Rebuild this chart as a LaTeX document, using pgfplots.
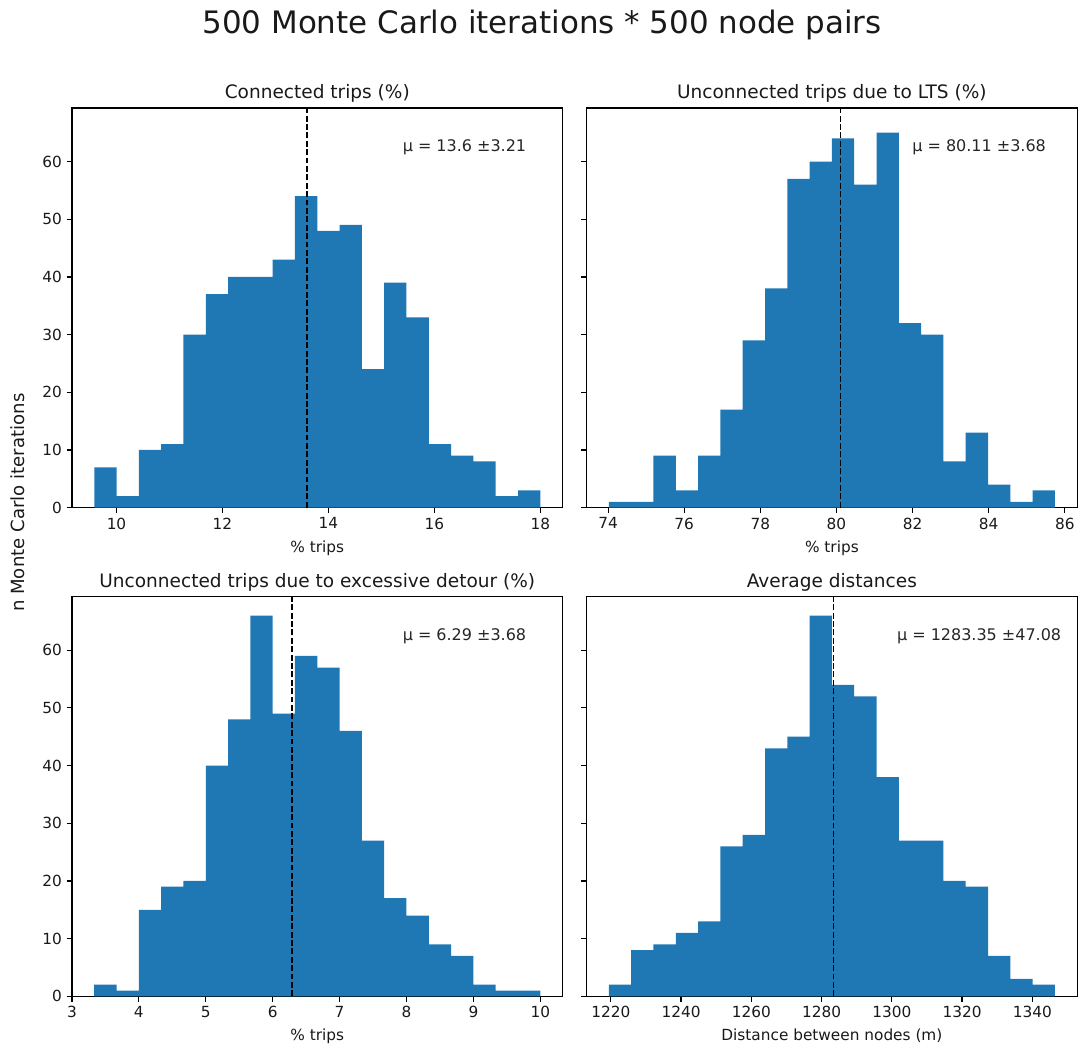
\documentclass[border=0pt]{standalone}
\usepackage{fontspec}
\setmainfont{DejaVu Sans}
\usepackage{pgfplots}
\pgfplotsset{compat=1.18}
\definecolor{mplblue}{HTML}{1F77B4}
\pgfplotsset{
  histax/.style={
    scale only axis, width=368.25pt, height=300pt, anchor=south west,
    ymin=0, ymax=69.3, ytick={0,10,...,60},
    tick align=outside, tick pos=left, major tick length=4pt,
    every tick/.style={black, line width=0.9pt},
    axis line style={line width=0.9pt, black},
    /pgf/number format/assume math mode=true,
    /pgf/number format/1000 sep={},
    ticklabel style={font=\fontsize{11.5}{13}\selectfont, text=black!90},
    label style={font=\fontsize{11.5}{13}\selectfont, text=black!90},
    xlabel style={yshift=-1.5pt},
    title style={at={(0.5,1)}, anchor=base, yshift=1pt, font=\fontsize{13.9}{16}\selectfont, text=black!90},
    clip=false,
  },
  histbar/.style={ybar interval, fill=mplblue, draw=none},
  meanline/.style={black, line width=1.1pt, dash pattern=on 4.4pt off 1.9pt},
}
\tikzset{mutext/.style={anchor=base, font=\fontsize{12}{14.4}\selectfont, text=black!85}}
\begin{document}
\begin{tikzpicture}
\path (0,0) rectangle (809.25pt,784.5pt);
% top-left
\begin{axis}[histax, at={(54pt,403.5pt)}, xmin=9.159, xmax=18.421, xtick={10,12,14,16,18},
  title={Connected trips (\%)}, xlabel={\% trips}]
\addplot[histbar] coordinates {
(9.580,7) (10.001,2) (10.422,10) (10.843,11) (11.264,30) (11.685,37) (12.106,40) (12.527,40)
(12.948,43) (13.369,54) (13.790,48) (14.211,49) (14.632,24) (15.053,39) (15.474,33) (15.895,11)
(16.316,9) (16.737,8) (17.158,2) (17.579,3) (18.000,3)};
\addplot[meanline] coordinates {(13.6,0) (13.6,69.3)};
\node[mutext] at (rel axis cs:0.8,0.89) {μ = 13.6 ±3.21};
\end{axis}
% top-right
\begin{axis}[histax, at={(440.25pt,403.5pt)}, xmin=73.434, xmax=86.326, xtick={74,76,...,86},
  yticklabels={}, title={Unconnected trips due to LTS (\%)}, xlabel={\% trips}]
\addplot[histbar] coordinates {
(74.020,1) (74.606,1) (75.192,9) (75.778,3) (76.364,9) (76.950,17) (77.536,29) (78.122,38)
(78.708,57) (79.294,60) (79.880,64) (80.466,56) (81.052,65) (81.638,32) (82.224,30) (82.810,8)
(83.396,13) (83.982,4) (84.568,1) (85.154,3) (85.740,3)};
\addplot[meanline] coordinates {(80.11,0) (80.11,69.3)};
\node[mutext] at (rel axis cs:0.8,0.89) {μ = 80.11 ±3.68};
\end{axis}
% bottom-left
\begin{axis}[histax, at={(54pt,36.75pt)}, xmin=3.0, xmax=10.3333, xtick={3,4,...,10},
  title={Unconnected trips due to excessive detour (\%)}, xlabel={\% trips}]
\addplot[histbar] coordinates {
(3.3333,2) (3.6667,1) (4.0000,15) (4.3333,19) (4.6667,20) (5.0000,40) (5.3333,48) (5.6667,66)
(6.0000,49) (6.3333,59) (6.6667,57) (7.0000,46) (7.3333,27) (7.6667,17) (8.0000,14) (8.3333,9)
(8.6667,7) (9.0000,2) (9.3333,1) (9.6667,1) (10.0000,1)};
\addplot[meanline] coordinates {(6.29,0) (6.29,69.3)};
\node[mutext] at (rel axis cs:0.8,0.89) {μ = 6.29 ±3.68};
\end{axis}
% bottom-right
\begin{axis}[histax, at={(440.25pt,36.75pt)}, xmin=1213.1, xmax=1352.8, xtick={1220,1240,...,1340},
  yticklabels={}, title={Average distances}, xlabel={Distance between nodes (m)}]
\addplot[histbar] coordinates {
(1219.45,2) (1225.80,8) (1232.15,9) (1238.50,11) (1244.85,13) (1251.20,26) (1257.55,28) (1263.90,43)
(1270.25,45) (1276.60,66) (1282.95,54) (1289.30,52) (1295.65,38) (1302.00,27) (1308.35,27) (1314.70,20)
(1321.05,19) (1327.40,7) (1333.75,3) (1340.10,2) (1346.45,2)};
\addplot[meanline] coordinates {(1283.35,0) (1283.35,69.3)};
\node[mutext] at (rel axis cs:0.8,0.89) {μ = 1283.35 ±47.08};
\end{axis}
\node[rotate=90, font=\fontsize{13.6}{16}\selectfont, text=black!90] at (13.5pt,407.25pt) {n Monte Carlo iterations};
\node[anchor=base, font=\fontsize{23.2}{27}\selectfont, text=black!90] at (406.9pt,759.4pt) {500 Monte Carlo iterations * 500 node pairs};
\end{tikzpicture}
\end{document}
